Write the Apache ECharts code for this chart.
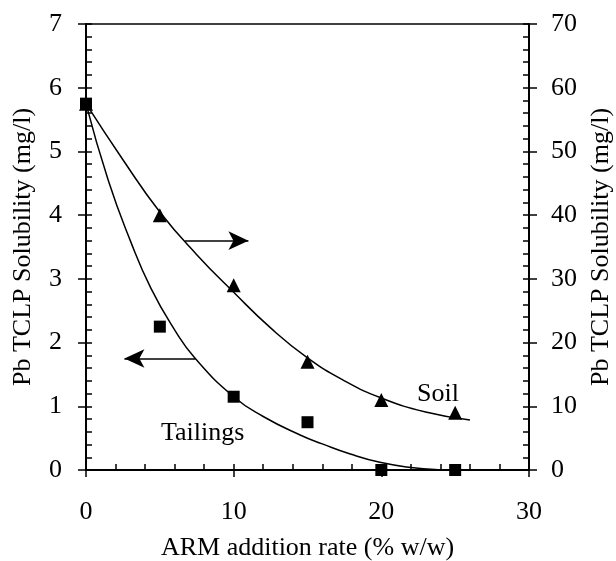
<!DOCTYPE html>
<html>
<head>
<meta charset="utf-8">
<script src="https://cdn.jsdelivr.net/npm/echarts@6/dist/echarts.min.js"></script>
<style>
  html, body { margin: 0; padding: 0; background: #fff; }
  #chart { width: 616px; height: 561px; }
</style>
</head>
<body>
<div id="chart"></div>
<script>
const FONT = "Liberation Serif";
const addRate = [0, 5, 10, 15, 20, 25];
const tailingsPb = [5.75, 2.25, 1.15, 0.75, 0, 0];
const soilPb = [57.5, 40, 29, 17, 11, 9];
// fitted curves
const tailingsFitX = [0, 1.5, 3, 4.4, 6, 7.4, 10, 12, 14.5, 16, 17.9, 19.9, 22, 24, 25];
const tailingsFitY = [5.75, 4.55, 3.6, 2.85, 2.2, 1.75, 1.15, 0.84, 0.55, 0.41, 0.25, 0.12, 0.04, 0.005, 0];
const soilFitX = [0, 2.5, 5, 7.5, 10, 12.5, 15, 17.5, 20, 23, 26];
const soilFitY = [57.5, 48.7, 40.5, 33.8, 27.9, 22.3, 17.6, 14.0, 11.3, 9.1, 7.85];

const pairs = (xs, ys) => xs.map((x, i) => [x, ys[i]]);
const black = "#000";
const tickLabel = { fontFamily: FONT, fontSize: 26, color: black };
const tickStyle = { color: black, width: 1.5 };

function valueAxis(extra) {
  return Object.assign({
    type: "value",
    axisLine: { show: true, onZero: false, lineStyle: { color: black, width: 2 } },
    splitLine: { show: false },
  }, extra);
}

const chart = echarts.init(document.getElementById("chart"));
const option = {
  animation: false,
  grid: { left: 86, right: 87, top: 24, bottom: 91, outerBoundsMode: "none" },
  xAxis: [
    valueAxis({
      position: "bottom", min: 0, max: 30, interval: 10,
      name: "ARM addition rate (% w/w)", nameLocation: "middle", nameGap: 65,
      nameTextStyle: tickLabel,
      axisTick: { inside: true, length: 6, lineStyle: tickStyle },
      minorTick: { show: true, splitNumber: 5, length: 6, lineStyle: tickStyle },
      axisLabel: Object.assign({ margin: 29 }, tickLabel),
    }),
    valueAxis({
      position: "bottom", min: 0, max: 30, interval: 10,
      axisLine: { show: false, onZero: false },
      axisTick: { inside: false, length: 7, lineStyle: tickStyle },
      axisLabel: { show: false },
    }),
    valueAxis({
      position: "top", min: 0, max: 30,
      axisLine: { show: true, onZero: false, lineStyle: { color: black, width: 1.5 } },
      axisTick: { show: false },
      axisLabel: { show: false },
    }),
  ],
  yAxis: [
    valueAxis({
      position: "left", min: 0, max: 7, interval: 1,
      name: "Pb TCLP Solubility (mg/l)", nameLocation: "middle", nameGap: 50, nameRotate: 90,
      nameTextStyle: tickLabel,
      axisTick: { show: true, inside: true, length: 6, lineStyle: tickStyle },
      minorTick: { show: true, splitNumber: 5, length: 6, lineStyle: tickStyle },
      axisLabel: Object.assign({ margin: 24 }, tickLabel),
    }),
    valueAxis({
      position: "right", min: 0, max: 70, interval: 10,
      name: "Pb TCLP Solubility (mg/l)", nameLocation: "middle", nameGap: 58, nameRotate: 90,
      nameTextStyle: tickLabel,
      axisTick: { show: true, inside: true, length: 6, lineStyle: tickStyle },
      minorTick: { show: true, splitNumber: 5, length: 6, lineStyle: tickStyle },
      axisLabel: Object.assign({ margin: 22 }, tickLabel),
    }),
    valueAxis({
      position: "left", min: 0, max: 7, interval: 1,
      axisLine: { show: false, onZero: false },
      axisTick: { show: true, inside: false, length: 8, lineStyle: tickStyle },
      axisLabel: { show: false },
    }),
    valueAxis({
      position: "right", min: 0, max: 70, interval: 10,
      axisLine: { show: false, onZero: false },
      axisTick: { show: true, inside: false, length: 8, lineStyle: tickStyle },
      axisLabel: { show: false },
    }),
  ],
  series: [
    {
      name: "Tailings fit", type: "line", yAxisIndex: 0,
      data: pairs(tailingsFitX, tailingsFitY),
      smooth: 0.5, showSymbol: false,
      lineStyle: { color: black, width: 1.5 },
      markLine: {
        silent: true, symbol: ["none", "arrow"], symbolSize: [14, 20],
        label: { show: false },
        lineStyle: { color: black, width: 1.5, type: "solid" },
        data: [
          [{ coord: [6.7, 3.6] }, { coord: [11.0, 3.6] }],
          [{ coord: [7.4, 1.75] }, { coord: [2.6, 1.75] }],
        ],
      },
    },
    {
      name: "Soil fit", type: "line", yAxisIndex: 1,
      data: pairs(soilFitX, soilFitY),
      smooth: 0.5, showSymbol: false,
      lineStyle: { color: black, width: 1.5 },
    },
    {
      name: "Soil", type: "scatter", yAxisIndex: 1,
      data: pairs(addRate, soilPb),
      symbol: "triangle", symbolSize: 14,
      itemStyle: { color: black, opacity: 1 },
    },
    {
      name: "Tailings", type: "scatter", yAxisIndex: 0,
      data: pairs(addRate, tailingsPb),
      symbol: "rect", symbolSize: 12,
      itemStyle: { color: black, opacity: 1 },
    },
  ],
  graphic: [
    { type: "text", x: 161, y: 433, style: { text: "Tailings", font: "26px " + FONT, fill: black, align: "left", verticalAlign: "middle" } },
    { type: "text", x: 417, y: 394, style: { text: "Soil", font: "26px " + FONT, fill: black, align: "left", verticalAlign: "middle" } },
  ],
};
chart.setOption(option);
</script>
</body>
</html>
